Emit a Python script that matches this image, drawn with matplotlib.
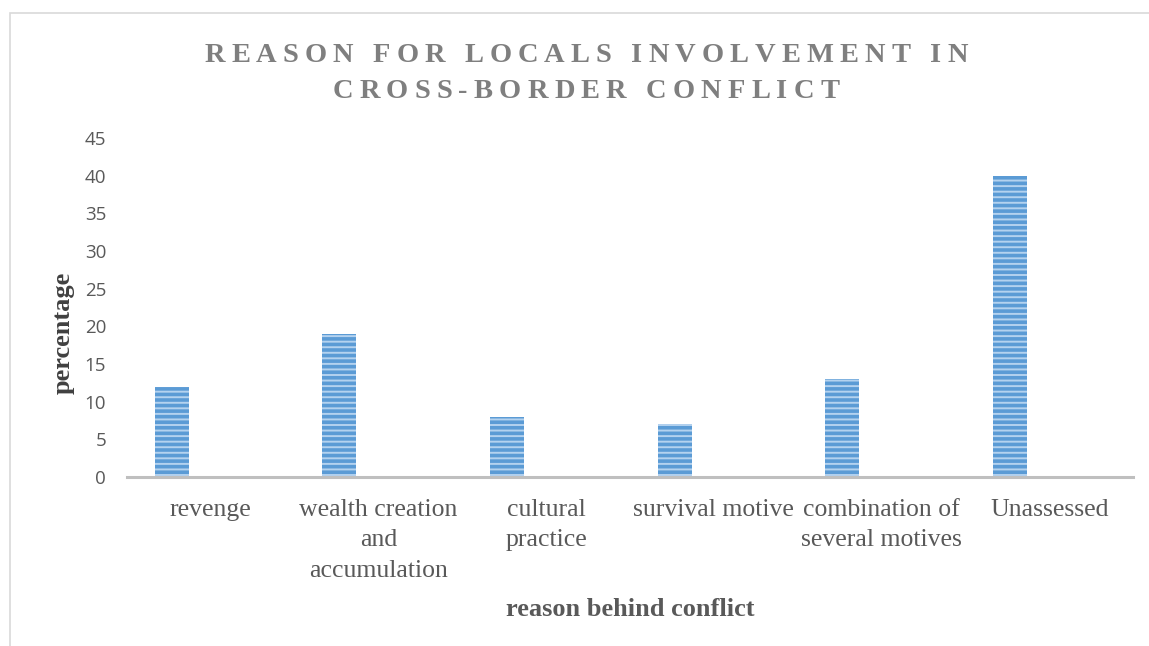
import numpy as np
import matplotlib
matplotlib.use("Agg")
import matplotlib.pyplot as plt
from matplotlib.patches import Rectangle

# data
categories = [
    "revenge",
    "wealth creation\nand\naccumulation",
    "cultural\npractice",
    "survival motive",
    "combination of\nseveral motives",
    "Unassessed",
]
percentages = [12, 19, 8, 7, 13, 40]
y_ticks = [0, 5, 10, 15, 20, 25, 30, 35, 40, 45]
title_lines = ["REASON FOR LOCALS INVOLVEMENT IN", "CROSS-BORDER CONFLICT"]

W, H = 1149, 646
serif = ["Liberation Serif", "DejaVu Serif"]
plt.rcParams["hatch.linewidth"] = 1.4

fig = plt.figure(figsize=(W / 100, H / 100), dpi=100)
ax = fig.add_axes([127 / W, 1 - 477 / H, 1006 / W, 339 / H])

# chart border (only top and left edges are in view)
fig.patches.append(
    Rectangle((9.5 / W, -0.2), 1.5, 1.2 - 12.5 / H, transform=fig.transFigure,
              fill=False, edgecolor="#d9d9d9", linewidth=1.2)
)

x = np.arange(len(categories))
ax.bar(x - 0.233, percentages, width=0.203, color="#5b9bd5",
       edgecolor="#b4d2ef", linewidth=0, hatch="---", zorder=2)

ax.set_xlim(-0.5, len(categories) - 0.5)
ax.set_ylim(0, 45)
ax.set_yticks(y_ticks)
ax.set_yticklabels([str(v) for v in y_ticks], fontfamily="Open Sans",
                   fontsize=13.5, color="#595959")
ax.set_xticks(x)
ax.set_xticklabels(categories, fontfamily=serif, fontsize=18.5, color="#595959",
                   linespacing=1.5)
ax.tick_params(axis="y", length=0, pad=15)
ax.tick_params(axis="x", length=0, pad=15.5)
for s in ["top", "right", "left"]:
    ax.spines[s].set_visible(False)
ax.spines["bottom"].set_color("#bfbfbf")
ax.spines["bottom"].set_linewidth(2.2)
ax.spines["bottom"].set_zorder(3)

fig.text(630 / W, 1 - 609 / H, "reason behind conflict", fontfamily=serif,
         fontweight="bold", fontsize=19, color="#595959", ha="center", va="center")
fig.text(63 / W, 1 - 333 / H, "percentage", fontfamily=serif, fontweight="bold",
         fontsize=19, color="#404040", ha="center", va="center", rotation=90)

# title with expanded letter spacing, placed one character at a time
fig.canvas.draw()
renderer = fig.canvas.get_renderer()
t_size = 20.5
t_px = t_size * 100 / 72
baselines = [62, 98]
targets = [763, 507]
for line, base, target in zip(title_lines, baselines, targets):
    widths = []
    for ch in line:
        if ch == " ":
            widths.append(0.25 * t_px)
        else:
            t = fig.text(0, 0, ch, fontfamily=serif, fontweight="bold", fontsize=t_size)
            widths.append(t.get_window_extent(renderer).width)
            t.remove()
    track = (target - sum(widths)) / (len(line) - 1)
    xpos = 586 - target / 2
    for ch, w in zip(line, widths):
        if ch != " ":
            fig.text(xpos / W, 1 - base / H, ch, fontfamily=serif, fontweight="bold",
                     fontsize=t_size, color="#7f7f7f", ha="left", va="baseline")
        xpos += w + track

fig.savefig("out.png", dpi=100)
